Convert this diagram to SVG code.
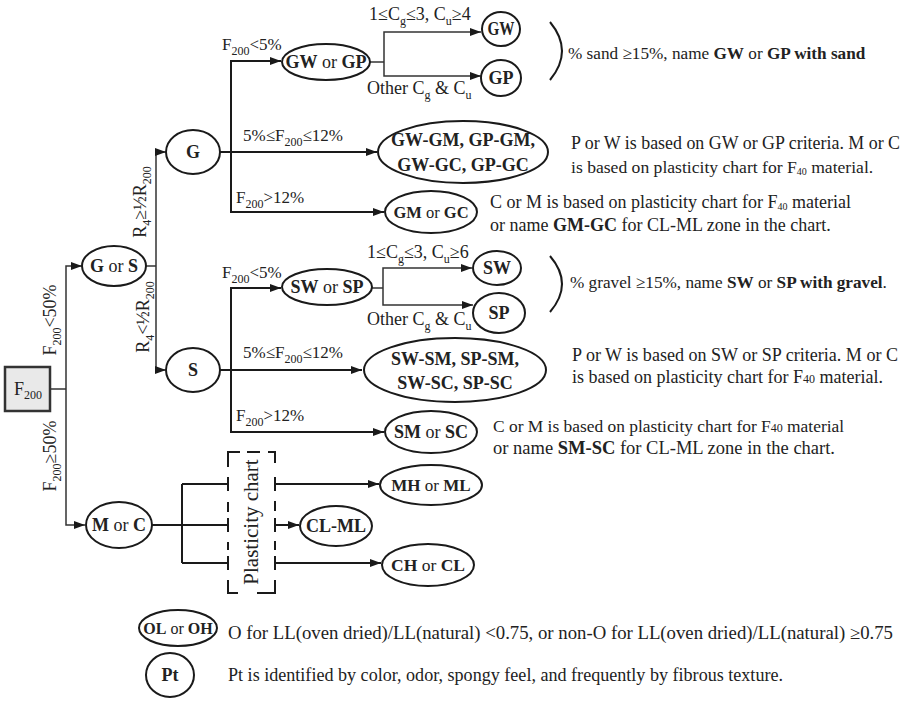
<svg xmlns="http://www.w3.org/2000/svg" width="908" height="703" viewBox="0 0 908 703">
<defs>
<style>
text{font-family:"Liberation Serif","Times New Roman",serif;font-size:18px;fill:#222}
.m{text-anchor:middle}
.b{font-weight:bold}
.n{fill:#fff;stroke:#1a1a1a;stroke-width:2}
.c{fill:none;stroke:#1a1a1a;stroke-width:2}
.ct{fill:none;stroke:#333;stroke-width:1.5}
.s{font-size:12px}
.l{font-size:17px}
</style>
<marker id="ah" markerWidth="11" markerHeight="8" refX="11" refY="4" orient="auto" markerUnits="userSpaceOnUse">
<path d="M0,0 L11,4 L0,8 z" fill="#1a1a1a"/>
</marker>
</defs>
<rect width="908" height="703" fill="#fff"/>

<g id="connectors">
<path class="ct" d="M50 389 H66"/>
<path class="ct" d="M66 389 V266 H82" marker-end="url(#ah)"/>
<path class="ct" d="M66 389 V525 H85" marker-end="url(#ah)"/>
<path class="ct" d="M146 266 H156"/>
<path class="ct" d="M156 266 V152 H166" marker-end="url(#ah)"/>
<path class="ct" d="M156 266 V370 H166" marker-end="url(#ah)"/>
<path class="c" d="M220 152 H377" marker-end="url(#ah)"/>
<path class="c" d="M231 152 V61 H281" marker-end="url(#ah)"/>
<path class="c" d="M231 152 V212 H384" marker-end="url(#ah)"/>
<path class="ct" d="M370 62 H384"/>
<path class="ct" d="M384 62 V32 H481" marker-end="url(#ah)"/>
<path class="ct" d="M384 62 V76 H481" marker-end="url(#ah)"/>
<path class="c" d="M220 370 H362" marker-end="url(#ah)"/>
<path class="c" d="M231 370 V288 H281" marker-end="url(#ah)"/>
<path class="c" d="M231 370 V432 H384" marker-end="url(#ah)"/>
<path class="ct" d="M372 288 H383"/>
<path class="ct" d="M383 288 V268 H472" marker-end="url(#ah)"/>
<path class="ct" d="M383 288 V305 H473" marker-end="url(#ah)"/>
<path class="c" d="M152 525 H182 M182 484 V563 M182 484 H228 M182 525 H228 M182 563 H228"/>
<path class="c" d="M275 484 H379" marker-end="url(#ah)"/>
<path class="c" d="M275 525 H299" marker-end="url(#ah)"/>
<path class="c" d="M275 563 H381" marker-end="url(#ah)"/>
<path class="c" d="M550 22 Q574 51 550 80"/>
<path class="c" d="M550 256 Q574 284 550 312"/>
</g>

<g id="plasticity-chart">
<path class="c" d="M240 452 H228 V467 M228 477 V491 M228 502 V512 M228 518 V532 M228 542 V550 M228 556 V570 M228 580 V593 H238 M247 452 H260 M268 452 H275 V463 M275 477 V491 M275 501 V511 M275 518 V532 M275 541 V550 M275 556 V570 M275 580 V593 H257"/>
<text class="m" transform="translate(258,522) rotate(-90)" style="font-size:21px">Plasticity chart</text>
</g>

<g id="F200">
<rect x="5" y="367" width="45" height="44" fill="#e9e9e9" stroke="#333" stroke-width="2.5"/>
<text class="m" x="28" y="395">F<tspan class="s" dy="4">200</tspan></text>
</g>

<g id="label-f200-lt50">
<text class="m" transform="translate(56,320) rotate(-90)">F<tspan class="s" dy="5">200</tspan><tspan dy="-5">&lt;50%</tspan></text>
</g>
<g id="label-f200-ge50">
<text class="m" transform="translate(56,456) rotate(-90)">F<tspan class="s" dy="5">200</tspan><tspan dy="-5">≥50%</tspan></text>
</g>
<g id="label-r4-ge">
<text class="m" transform="translate(146,202) rotate(-90)">R<tspan class="s" dy="5">4</tspan><tspan dy="-5">≥½R</tspan><tspan class="s" dy="5">200</tspan></text>
</g>
<g id="label-r4-lt">
<text class="m" transform="translate(149,317) rotate(-90)">R<tspan class="s" dy="5">4</tspan><tspan dy="-5">&lt;½R</tspan><tspan class="s" dy="5">200</tspan></text>
</g>

<g id="GorS">
<ellipse class="n" cx="114" cy="266" rx="32" ry="20"/>
<text class="m" x="114" y="272"><tspan class="b">G</tspan> or <tspan class="b">S</tspan></text>
</g>
<g id="G">
<ellipse class="n" cx="193" cy="152" rx="27" ry="22"/>
<text class="m b" x="193" y="158">G</text>
</g>
<g id="S">
<ellipse class="n" cx="193" cy="370" rx="27" ry="22"/>
<text class="m b" x="193" y="376">S</text>
</g>

<g id="labels-G">
<text class="l" x="222" y="50">F<tspan class="s" dy="5">200</tspan><tspan dy="-5">&lt;5%</tspan></text>
<text class="l" x="243" y="141">5%≤F<tspan class="s" dy="5">200</tspan><tspan dy="-5">≤12%</tspan></text>
<text class="l" x="236" y="203">F<tspan class="s" dy="5">200</tspan><tspan dy="-5">&gt;12%</tspan></text>
<text x="369" y="20">1≤C<tspan class="s" dy="5">g</tspan><tspan dy="-5">≤3, C</tspan><tspan class="s" dy="5">u</tspan><tspan dy="-5">≥4</tspan></text>
<text x="367" y="94">Other C<tspan class="s" dy="5">g</tspan><tspan dy="-5"> &amp; C</tspan><tspan class="s" dy="5">u</tspan></text>
</g>

<g id="GWorGP">
<ellipse class="n" cx="326" cy="62" rx="44" ry="18"/>
<text class="m" x="326" y="68"><tspan class="b">GW</tspan> or <tspan class="b">GP</tspan></text>
</g>
<g id="GW">
<ellipse class="n" cx="501" cy="29" rx="19" ry="17"/>
<text class="m b" x="501" y="35" textLength="27" lengthAdjust="spacingAndGlyphs">GW</text>
</g>
<g id="GP">
<ellipse class="n" cx="501" cy="78" rx="20" ry="18"/>
<text class="m b" x="501" y="84">GP</text>
</g>
<g id="GW-GM">
<ellipse class="n" cx="463" cy="152" rx="85" ry="31"/>
<text class="m b" x="463" y="146">GW-GM, GP-GM,</text>
<text class="m b" x="463" y="171">GW-GC, GP-GC</text>
</g>
<g id="GMorGC">
<ellipse class="n" cx="431" cy="212" rx="46" ry="21"/>
<text class="m" x="431" y="218" style="font-size:16.5px"><tspan class="b">GM</tspan> or <tspan class="b">GC</tspan></text>
</g>

<g id="notes-G">
<text x="568" y="59" style="font-size:17.2px">% sand ≥15%, name <tspan class="b">GW</tspan> or <tspan class="b">GP with sand</tspan></text>
<text x="571" y="149" textLength="329" lengthAdjust="spacingAndGlyphs">P or W is based on GW or GP criteria. M or C</text>
<text x="571" y="173" style="font-size:17.6px">is based on plasticity chart for F<tspan style="font-size:10px" dy="2">40</tspan><tspan dy="-2"> material.</tspan></text>
<text x="490" y="208">C or M is based on plasticity chart for F<tspan style="font-size:10px" dy="2">40</tspan><tspan dy="-2"> material</tspan></text>
<text x="490" y="231">or name <tspan class="b">GM-GC</tspan> for CL-ML zone in the chart.</text>
</g>

<g id="labels-S">
<text class="l" x="222" y="278">F<tspan class="s" dy="5">200</tspan><tspan dy="-5">&lt;5%</tspan></text>
<text class="l" x="243" y="358">5%≤F<tspan class="s" dy="5">200</tspan><tspan dy="-5">≤12%</tspan></text>
<text class="l" x="236" y="421">F<tspan class="s" dy="5">200</tspan><tspan dy="-5">&gt;12%</tspan></text>
<text x="367" y="258">1≤C<tspan class="s" dy="5">g</tspan><tspan dy="-5">≤3, C</tspan><tspan class="s" dy="5">u</tspan><tspan dy="-5">≥6</tspan></text>
<text x="367" y="325">Other  C<tspan class="s" dy="5">g</tspan><tspan dy="-5"> &amp; C</tspan><tspan class="s" dy="5">u</tspan></text>
</g>

<g id="SWorSP">
<ellipse class="n" cx="327" cy="287" rx="45" ry="18"/>
<text class="m" x="327" y="293"><tspan class="b">SW</tspan> or <tspan class="b">SP</tspan></text>
</g>
<g id="SW">
<ellipse class="n" cx="497" cy="268" rx="24" ry="17"/>
<text class="m b" x="497" y="274">SW</text>
</g>
<g id="SP">
<ellipse class="n" cx="499" cy="313" rx="26" ry="20"/>
<text class="m b" x="499" y="319">SP</text>
</g>
<g id="SW-SM">
<ellipse class="n" cx="455" cy="370" rx="91" ry="32"/>
<text class="m b" x="455" y="365">SW-SM, SP-SM,</text>
<text class="m b" x="455" y="389">SW-SC, SP-SC</text>
</g>
<g id="SMorSC">
<ellipse class="n" cx="431" cy="432" rx="46" ry="21"/>
<text class="m" x="431" y="438"><tspan class="b">SM</tspan> or <tspan class="b">SC</tspan></text>
</g>

<g id="notes-S">
<text x="570" y="288" style="font-size:17.2px">% gravel ≥15%, name <tspan class="b">SW</tspan> or <tspan class="b">SP with gravel</tspan>.</text>
<text x="572" y="361" textLength="326" lengthAdjust="spacingAndGlyphs">P or W is based on  SW or SP criteria. M or C</text>
<text x="572" y="383">is based on plasticity chart for F<tspan style="font-size:12px">40</tspan> material.</text>
<text x="493" y="432" style="font-size:17.4px">C or M is based on plasticity chart for F<tspan style="font-size:12px">40</tspan> material</text>
<text x="493" y="454" style="font-size:18.5px">or name <tspan class="b">SM-SC</tspan> for CL-ML zone in the chart.</text>
</g>

<g id="MorC">
<ellipse class="n" cx="119" cy="525" rx="33" ry="23"/>
<text class="m" x="119" y="531"><tspan class="b">M</tspan> or <tspan class="b">C</tspan></text>
</g>
<g id="MHorML">
<ellipse class="n" cx="431" cy="485" rx="51" ry="20"/>
<text class="m" x="431" y="491" style="font-size:17px"><tspan class="b">MH</tspan> or <tspan class="b">ML</tspan></text>
</g>
<g id="CL-ML">
<ellipse class="n" cx="336" cy="526" rx="36" ry="20"/>
<text class="m b" x="336" y="532">CL-ML</text>
</g>
<g id="CHorCL">
<ellipse class="n" cx="428" cy="565" rx="46" ry="21"/>
<text class="m" x="428" y="571" style="font-size:17.5px"><tspan class="b">CH</tspan> or <tspan class="b">CL</tspan></text>
</g>

<g id="OLorOH">
<ellipse class="n" cx="178" cy="628" rx="39" ry="18"/>
<text class="m" x="178" y="634" style="font-size:16px"><tspan class="b">OL</tspan> or <tspan class="b">OH</tspan></text>
<text x="228" y="639" textLength="665" lengthAdjust="spacingAndGlyphs">O for LL(oven dried)/LL(natural) &lt;0.75, or non-O for LL(oven dried)/LL(natural) ≥0.75</text>
</g>
<g id="Pt">
<ellipse class="n" cx="170" cy="675" rx="24" ry="22"/>
<text class="m b" x="170" y="681">Pt</text>
<text x="228" y="681" textLength="555" lengthAdjust="spacingAndGlyphs">Pt is identified by color, odor, spongy feel, and frequently by fibrous texture.</text>
</g>
</svg>
